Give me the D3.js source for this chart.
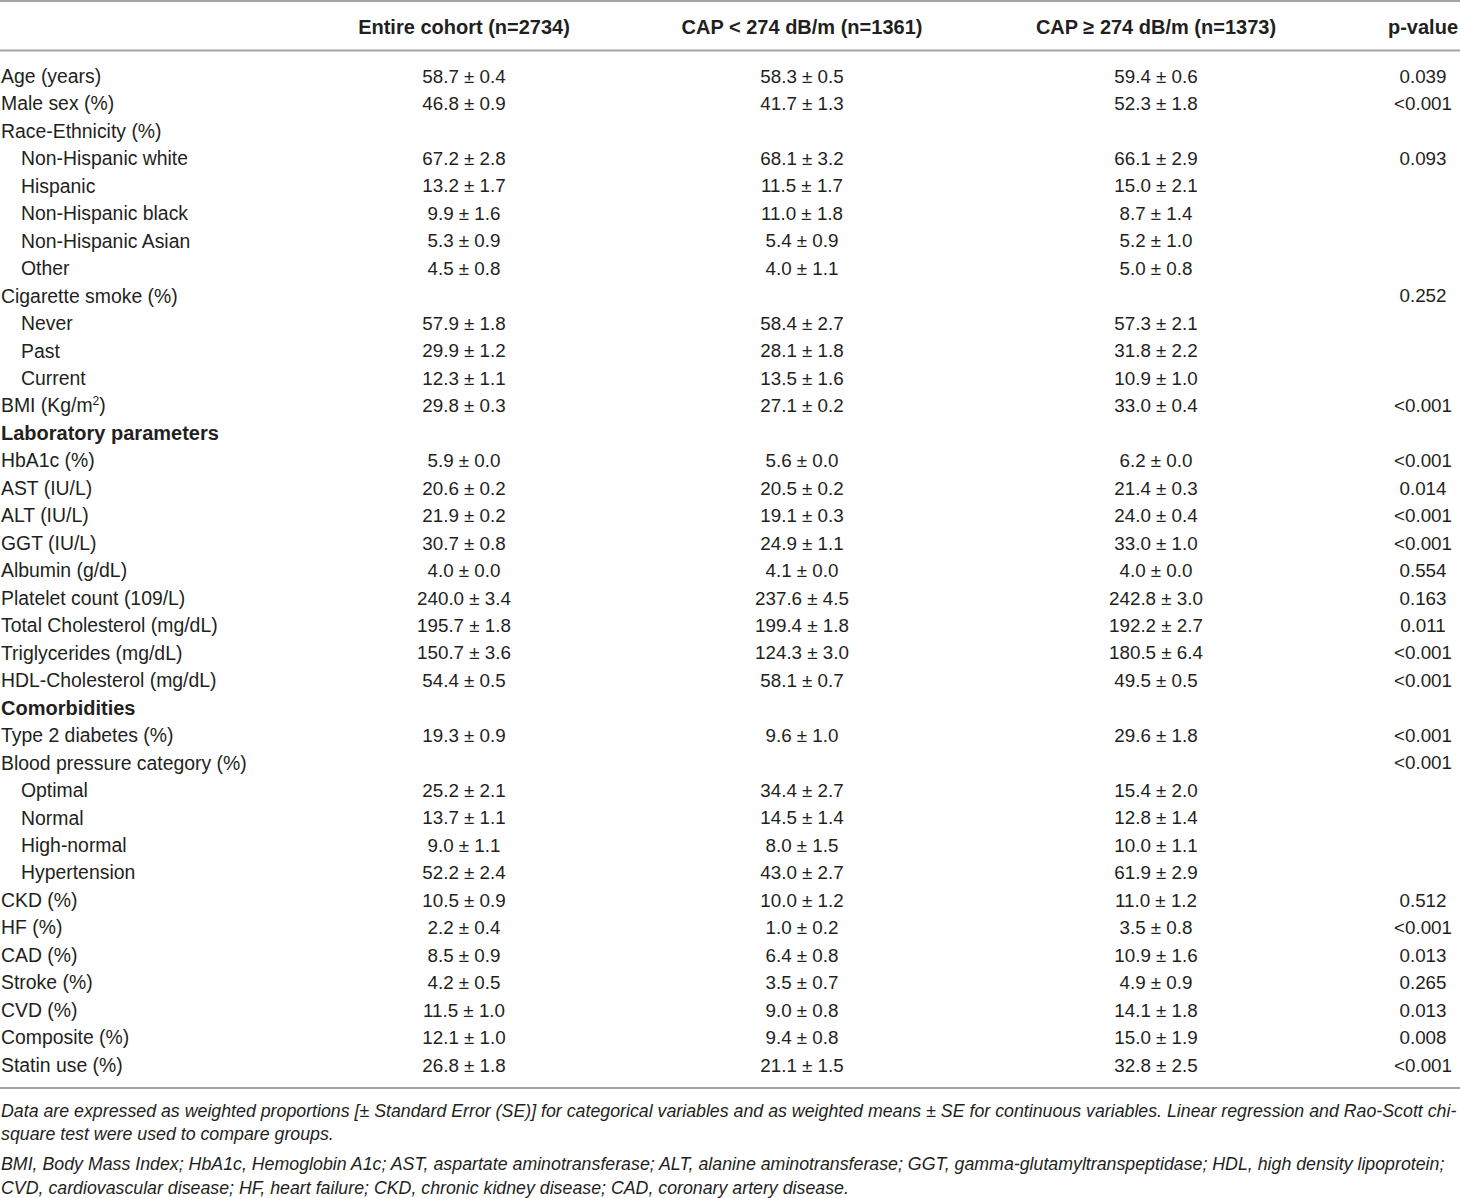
<!DOCTYPE html>
<html><head><meta charset="utf-8">
<script src="https://cdn.jsdelivr.net/npm/d3@7"></script>
<style>
html,body{margin:0;padding:0;background:#fff;}
svg{display:block;}
text{font-family:"Liberation Sans",Arial,Helvetica,sans-serif;fill:#231f20;}
</style></head>
<body>
<svg id="chart" width="1460" height="1198"></svg>
<script>
const headers = ["", "Entire cohort (n=2734)", "CAP < 274 dB/m (n=1361)", "CAP \u2265 274 dB/m (n=1373)", "p-value"];
const rowLabels = ["Age (years)","Male sex (%)","Race-Ethnicity (%)","Non-Hispanic white","Hispanic","Non-Hispanic black","Non-Hispanic Asian","Other","Cigarette smoke (%)","Never","Past","Current","BMI (Kg/m2)","Laboratory parameters","HbA1c (%)","AST (IU/L)","ALT (IU/L)","GGT (IU/L)","Albumin (g/dL)","Platelet count (109/L)","Total Cholesterol (mg/dL)","Triglycerides (mg/dL)","HDL-Cholesterol (mg/dL)","Comorbidities","Type 2 diabetes (%)","Blood pressure category (%)","Optimal","Normal","High-normal","Hypertension","CKD (%)","HF (%)","CAD (%)","Stroke (%)","CVD (%)","Composite (%)","Statin use (%)"];
const rowType = ["main","main","main","sub","sub","sub","sub","sub","main","sub","sub","sub","main","section","main","main","main","main","main","main","main","main","main","section","main","main","sub","sub","sub","sub","main","main","main","main","main","main","main"];
const entireCohort = ["58.7 \u00b1 0.4","46.8 \u00b1 0.9","","67.2 \u00b1 2.8","13.2 \u00b1 1.7","9.9 \u00b1 1.6","5.3 \u00b1 0.9","4.5 \u00b1 0.8","","57.9 \u00b1 1.8","29.9 \u00b1 1.2","12.3 \u00b1 1.1","29.8 \u00b1 0.3","","5.9 \u00b1 0.0","20.6 \u00b1 0.2","21.9 \u00b1 0.2","30.7 \u00b1 0.8","4.0 \u00b1 0.0","240.0 \u00b1 3.4","195.7 \u00b1 1.8","150.7 \u00b1 3.6","54.4 \u00b1 0.5","","19.3 \u00b1 0.9","","25.2 \u00b1 2.1","13.7 \u00b1 1.1","9.0 \u00b1 1.1","52.2 \u00b1 2.4","10.5 \u00b1 0.9","2.2 \u00b1 0.4","8.5 \u00b1 0.9","4.2 \u00b1 0.5","11.5 \u00b1 1.0","12.1 \u00b1 1.0","26.8 \u00b1 1.8"];
const capLow = ["58.3 \u00b1 0.5","41.7 \u00b1 1.3","","68.1 \u00b1 3.2","11.5 \u00b1 1.7","11.0 \u00b1 1.8","5.4 \u00b1 0.9","4.0 \u00b1 1.1","","58.4 \u00b1 2.7","28.1 \u00b1 1.8","13.5 \u00b1 1.6","27.1 \u00b1 0.2","","5.6 \u00b1 0.0","20.5 \u00b1 0.2","19.1 \u00b1 0.3","24.9 \u00b1 1.1","4.1 \u00b1 0.0","237.6 \u00b1 4.5","199.4 \u00b1 1.8","124.3 \u00b1 3.0","58.1 \u00b1 0.7","","9.6 \u00b1 1.0","","34.4 \u00b1 2.7","14.5 \u00b1 1.4","8.0 \u00b1 1.5","43.0 \u00b1 2.7","10.0 \u00b1 1.2","1.0 \u00b1 0.2","6.4 \u00b1 0.8","3.5 \u00b1 0.7","9.0 \u00b1 0.8","9.4 \u00b1 0.8","21.1 \u00b1 1.5"];
const capHigh = ["59.4 \u00b1 0.6","52.3 \u00b1 1.8","","66.1 \u00b1 2.9","15.0 \u00b1 2.1","8.7 \u00b1 1.4","5.2 \u00b1 1.0","5.0 \u00b1 0.8","","57.3 \u00b1 2.1","31.8 \u00b1 2.2","10.9 \u00b1 1.0","33.0 \u00b1 0.4","","6.2 \u00b1 0.0","21.4 \u00b1 0.3","24.0 \u00b1 0.4","33.0 \u00b1 1.0","4.0 \u00b1 0.0","242.8 \u00b1 3.0","192.2 \u00b1 2.7","180.5 \u00b1 6.4","49.5 \u00b1 0.5","","29.6 \u00b1 1.8","","15.4 \u00b1 2.0","12.8 \u00b1 1.4","10.0 \u00b1 1.1","61.9 \u00b1 2.9","11.0 \u00b1 1.2","3.5 \u00b1 0.8","10.9 \u00b1 1.6","4.9 \u00b1 0.9","14.1 \u00b1 1.8","15.0 \u00b1 1.9","32.8 \u00b1 2.5"];
const pValues = ["0.039","<0.001","","0.093","","","","","0.252","","","","<0.001","","<0.001","0.014","<0.001","<0.001","0.554","0.163","0.011","<0.001","<0.001","","<0.001","<0.001","","","","","0.512","<0.001","0.013","0.265","0.013","0.008","<0.001"];
const footnotes = [
  "Data are expressed as weighted proportions [\u00b1 Standard Error (SE)] for categorical variables and as weighted means \u00b1 SE for continuous variables. Linear regression and Rao-Scott chi-",
  "square test were used to compare groups.",
  "BMI, Body Mass Index; HbA1c, Hemoglobin A1c; AST, aspartate aminotransferase; ALT, alanine aminotransferase; GGT, gamma-glutamyltranspeptidase; HDL, high density lipoprotein;",
  "CVD, cardiovascular disease; HF, heart failure; CKD, chronic kidney disease; CAD, coronary artery disease."
];

const W = 1460, H = 1198;
const svg = d3.select("#chart");
const columns = ["label","entire","low","high","p"];
const colX = d3.scaleOrdinal().domain(columns).range([1, 464, 802, 1156, 1423]);
const rowY = d3.scalePoint().domain(d3.range(rowLabels.length)).range([76, 1065]);
const lineColor = "#a3a3a3";
const fsReg = 18.8, fsLab = 19.4, fsBold = 20;

// rules
[1, 50.5, 1088].forEach(y => {
  svg.append("line").attr("x1",0).attr("x2",W).attr("y1",y).attr("y2",y)
    .attr("stroke",lineColor).attr("stroke-width",2);
});

// header
const hdr = svg.append("g");
headers.forEach((h,i) => {
  if (!h) return;
  hdr.append("text").attr("x", colX(columns[i])).attr("y", 26.5).attr("dy","0.35em")
    .attr("text-anchor","middle").attr("font-weight","bold").attr("font-size",fsBold).text(h);
});

// rows
const body = svg.append("g");
const cols = [entireCohort, capLow, capHigh, pValues];
rowLabels.forEach((lab,i) => {
  const t = rowType[i];
  const tx = body.append("text")
    .attr("x", colX("label") + (t==="sub" ? 20 : 0))
    .attr("y", rowY(i)).attr("dy","0.35em")
    .attr("font-size", t==="section" ? fsBold : fsLab)
    .attr("font-weight", t==="section" ? "bold" : "normal");
  if (lab === "BMI (Kg/m2)") {
    tx.append("tspan").text("BMI (Kg/m");
    tx.append("tspan").attr("baseline-shift","super").attr("font-size",12).text("2");
    tx.append("tspan").text(")");
  } else tx.text(lab);
  cols.forEach((arr,j) => {
    if (!arr[i]) return;
    body.append("text").attr("x", colX(columns[j+1])).attr("y", rowY(i)).attr("dy","0.35em")
      .attr("text-anchor","middle").attr("font-size",fsReg).text(arr[i]);
  });
});

// footnotes
const fy = [1111, 1134, 1164, 1188];
const fn = svg.append("g");
const fnTexts = footnotes.map((f,i) => fn.append("text").attr("x",1).attr("y",fy[i]).attr("dy","0.35em")
  .attr("font-style","italic").attr("font-size",17).text(f));
const w0 = fnTexts[0].node().getComputedTextLength();
const fs = 17 * 1457 / w0;
fnTexts.forEach(t => t.attr("font-size", fs));
</script>
</body></html>
